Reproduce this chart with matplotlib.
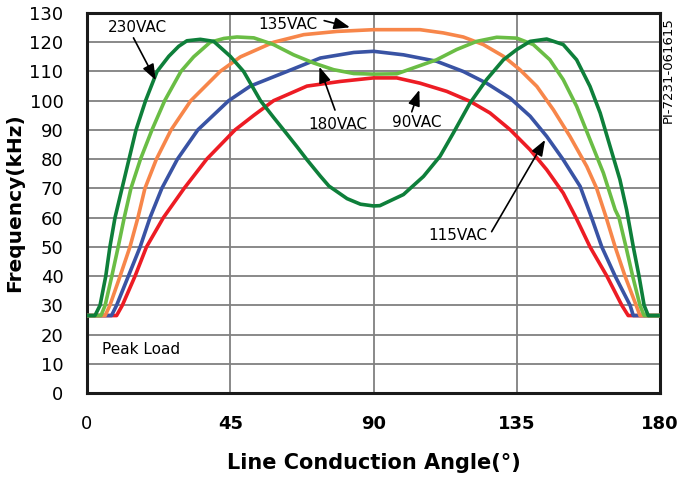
import matplotlib
matplotlib.use("Agg")
import matplotlib.pyplot as plt

# Curvas de frecuencia (kHz) vs angulo de conduccion (grados)
ang_230 = [0, 2.5, 4.1, 5.9, 7.2, 8.8, 11, 13.2, 15.4, 18.4, 22, 25.7, 28.8, 31.4, 35.6, 39.8,
           45, 49.2, 54.5, 58.6, 62.8, 66, 69.1, 73.3, 76, 81.7, 85.9, 90, 92, 99.4, 105.7,
           110.9, 115.1, 120.3, 125.5, 130.8, 135, 139.2, 144.4, 149.6, 153.8, 158, 161.2,
           164.3, 167.4, 169.5, 171.6, 173.4, 175, 176.3, 180]
f_230 = [26.5, 26.5, 30, 40, 50, 60, 70, 80, 90, 100, 110, 115.2, 118.6, 120.5, 121, 120.3,
         115.2, 110, 100, 94.3, 88.6, 84.2, 79.8, 74.2, 70.8, 66.5, 64.6, 64, 64.1, 67.9, 74.1,
         81, 89, 99.2, 107.2, 114, 117.5, 120.3, 121.1, 119.2, 114, 104.9, 95.8,
         84.4, 73, 62.7, 50, 40, 30, 26.5, 26.5]

ang_180 = [0, 4.4, 5.7, 7.8, 9.8, 11.7, 13.8, 16.8, 20.4, 24.4, 29.5, 33.5, 38.7, 43, 47.1,
           52.4, 58.6, 64.9, 71.2, 77.5, 83.8, 90, 97.3, 102.5, 109.8, 116.1, 122.4, 128.7,
           135, 140.2, 145.4, 149.6, 153.8, 158, 162.2, 165.9, 167.1, 169.3, 171.4, 173.7,
           175, 180]
f_180 = [26.5, 26.5, 30, 40, 50, 60, 70, 80, 90, 100, 110, 115, 120, 121.3, 121.8,
         121.5, 119.2, 115.7, 112.9, 110.6, 109.3, 109.1, 109.2, 111.2, 114, 117.5, 120.3, 121.7,
         121.4, 119.2, 114, 107.2, 98.1, 86.7, 75.3, 62.7, 60, 50, 40, 30,
         26.5, 26.5]

ang_135 = [0, 5.7, 7.2, 10.4, 13.5, 16, 18.2, 21.8, 26.4, 32.6, 41.8, 48.2, 58.6, 68.1, 78.5,
           90, 104.6, 111.9, 118.2, 124.5, 130.8, 136, 141.3, 146.5, 151.7, 157, 160.1,
           163.1, 165.9, 169, 172.5, 173.7, 180]
f_135 = [26.5, 26.5, 30, 40, 50, 60, 70, 80, 90, 100, 110, 115, 120, 122.6, 123.7,
         124.3, 124.3, 123.2, 121.8, 119.2, 115.2, 110.6, 104.9, 96.9, 87.8, 77.5, 70,
         60, 50, 40, 30, 26.5, 26.5]

ang_115 = [0, 7.7, 9.3, 13, 16.7, 19.8, 23.5, 28.4, 34.8, 44.5, 51.3, 62.8, 73.3, 83.8, 90,
           99.4, 109.8, 118.2, 125.5, 132.9, 139.2, 144.4, 149.6, 154.9, 158.5, 161.7, 165.9,
           170.6, 171.6, 180]
f_115 = [26.5, 26.5, 30, 40, 50, 60, 70, 80, 90, 100, 105, 110, 114.6, 116.5, 116.9,
         115.7, 113.5, 110, 106, 100.9, 94.7, 87.8, 79.8, 70.7, 60, 50, 40,
         30, 26.5, 26.5]

ang_90 = [0, 9.3, 11.1, 15.1, 18.7, 24, 30.5, 37.6, 46.5, 52.4, 58.6, 69.1, 79.6, 90, 97.3,
          104.6, 113, 120.3, 126.6, 132.9, 139.2, 144.4, 149.6, 153.6, 158, 163.3, 168, 170, 180]
f_90 = [26.5, 26.5, 30, 40, 50, 60, 70, 80, 90, 95, 100, 105, 106.6, 107.8, 107.8,
        106, 103.2, 99.8, 95.8, 90.1, 83.2, 76.4, 68.4, 60, 50, 40, 30, 26.5, 26.5]

x_ticks = [0, 45, 90, 135, 180]
y_ticks = list(range(0, 131, 10))

fig = plt.figure(figsize=(6.78, 4.82), dpi=100)
ax = fig.add_axes([0.1283, 0.1846, 0.8452, 0.7884])

# orden de dibujo: el verde oscuro queda encima
estilo = dict(lw=2.6, zorder=3, solid_joinstyle="round", solid_capstyle="butt")
ax.plot(ang_90, f_90, color="#ed1c24", **estilo)
ax.plot(ang_115, f_115, color="#3953a4", **estilo)
ax.plot(ang_135, f_135, color="#f7864a", **estilo)
ax.plot(ang_180, f_180, color="#6abd45", **estilo)
ax.plot(ang_230, f_230, color="#0e7f3a", **estilo)

ax.set_xlim(0, 180)
ax.set_ylim(0, 130)
ax.set_xticks(x_ticks)
ax.set_yticks(y_ticks)
ax.set_xticklabels([str(v) for v in x_ticks], fontsize=13)
for i, lab in enumerate(ax.get_xticklabels()):
    if i > 0:
        lab.set_fontweight("bold")
ax.set_yticklabels([str(v) for v in y_ticks], fontsize=13)
ax.tick_params(axis="both", length=0)
ax.tick_params(axis="x", pad=16)
ax.tick_params(axis="y", pad=17)
ax.grid(True, color="#808080", lw=1.3, zorder=1)
for s in ax.spines.values():
    s.set_linewidth(2.2)
    s.set_color("#1a1a1a")

ax.set_xlabel("Line Conduction Angle(°)", fontsize=15, fontweight="bold", labelpad=14)
ax.set_ylabel("Frequency(kHz)", fontsize=14.5, fontweight="bold", labelpad=4)

# etiquetas con flechas
arrow = dict(arrowstyle="-|>,head_length=0.8,head_width=0.3", color="black", lw=1.2,
             mutation_scale=12, shrinkA=0, shrinkB=0)
ax.text(15.9, 125, "230VAC", fontsize=11, ha="center", va="center")
ax.annotate("", xy=(21.6, 107), xytext=(14.6, 121.5), arrowprops=arrow, zorder=5)
ax.text(63.2, 126.2, "135VAC", fontsize=11, ha="center", va="center")
ax.annotate("", xy=(82.6, 125.1), xytext=(74.5, 127.4), arrowprops=arrow, zorder=5)
ax.text(78.7, 92, "180VAC", fontsize=11, ha="center", va="center")
ax.annotate("", xy=(73, 111.6), xytext=(77.9, 96.8), arrowprops=arrow, zorder=5)
ax.text(103.6, 92.4, "90VAC", fontsize=11, ha="center", va="center")
ax.annotate("", xy=(104.4, 103.7), xytext=(102, 96.2), arrowprops=arrow, zorder=5)
ax.text(116.4, 53.9, "115VAC", fontsize=11, ha="center", va="center")
ax.annotate("", xy=(143.9, 86.6), xytext=(127.1, 55.2), arrowprops=arrow, zorder=5)
ax.text(4.6, 15, "Peak Load", fontsize=11, ha="left", va="center")

fig.text(0.986, 0.855, "PI-7231-061615", fontsize=9.5, rotation=90, ha="center", va="center")

fig.savefig("out.png", dpi=100)
plt.close(fig)
